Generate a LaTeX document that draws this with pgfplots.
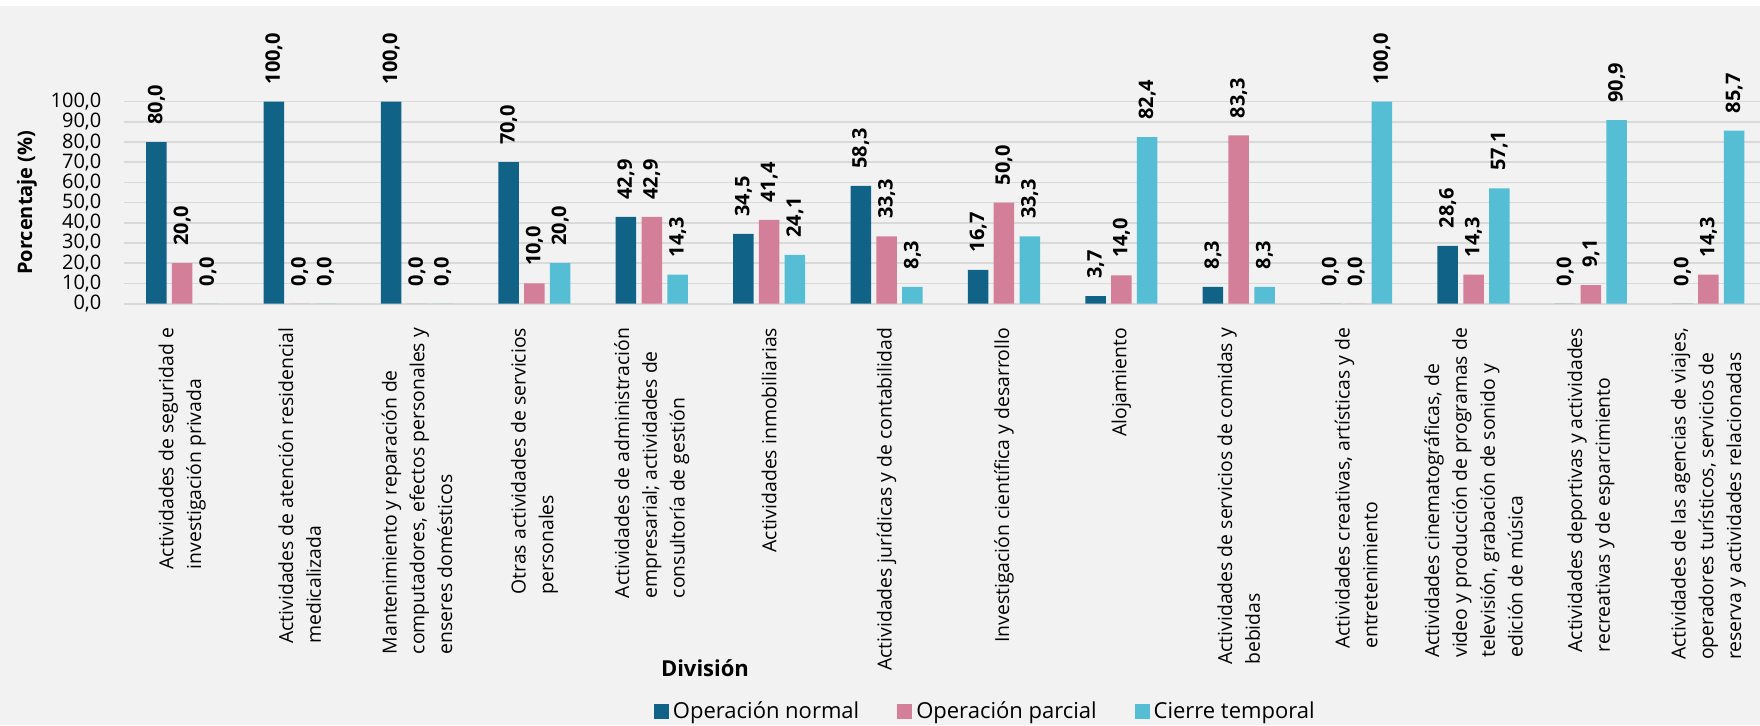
\documentclass[border=0pt]{standalone}
\usepackage{fontspec}
\setmainfont{Open Sans}
\usepackage{pgfplots}
\usepackage{pgfplotstable}
\pgfplotsset{compat=1.18}

\definecolor{normal}{HTML}{106387}
\definecolor{parcial}{HTML}{D47F99}
\definecolor{cierre}{HTML}{55BED5}
\definecolor{fondo}{HTML}{F2F2F2}
\definecolor{rejilla}{HTML}{D9D9D9}

% porcentaje por division y estado de operacion
\pgfplotstableread{
x normal parcial cierre
0  80.0  20.0   0.0
1  100.0  0.0   0.0
2  100.0  0.0   0.0
3  70.0  10.0  20.0
4  42.9  42.9  14.3
5  34.5  41.4  24.1
6  58.3  33.3   8.3
7  16.7  50.0  33.3
8   3.7  14.0  82.4
9   8.3  83.3   8.3
10  0.0   0.0 100.0
11 28.6  14.3  57.1
12  0.0   9.1  90.9
13  0.0  14.3  85.7
}\datos

\begin{document}
\begin{tikzpicture}
\useasboundingbox (0,0) rectangle (880pt,362.5pt);
\fill[white] (0,0) rectangle (880pt,362.5pt);
\fill[fondo] (0,0) rectangle (880pt,359.5pt);
\begin{axis}[
    at={(61.75pt,210.75pt)}, anchor=south west,
    scale only axis, width=821.75pt, height=100.9pt,
    ybar=2.65pt, bar width=10.25pt,
    xmin=-0.5, xmax=13.5, ymin=0, ymax=100,
    clip=false,
    axis x line*=bottom, axis y line*=left,
    x axis line style={rejilla, line width=1pt},
    y axis line style={draw=none},
    xtick style={draw=none}, ytick style={draw=none},
    ytick={0,10,...,100},
    ymajorgrids, grid style={rejilla, line width=0.75pt},
    /pgf/number format/fixed,
    /pgf/number format/fixed zerofill,
    /pgf/number format/precision=1,
    /pgf/number format/use comma,
    /pgf/number format/1000 sep={},
    /pgf/number format/assume math mode=true,
    yticklabel style={anchor=east, inner sep=0pt, xshift=-10.9pt,
        font=\fontsize{10}{12}\selectfont},
    xtick={0,...,13},
    xticklabels={
        {Actividades de seguridad e\\investigación privada},
        {Actividades de atención residencial\\medicalizada},
        {Mantenimiento y reparación de\\computadores, efectos personales y\\enseres domésticos},
        {Otras actividades de servicios\\personales},
        {Actividades de administración\\empresarial; actividades de\\consultoría de gestión},
        {Actividades inmobiliarias},
        {Actividades jurídicas y de contabilidad},
        {Investigación científica y desarrollo},
        {Alojamiento},
        {Actividades de servicios de comidas y\\bebidas},
        {Actividades creativas, artísticas y de\\entretenimiento},
        {Actividades cinematográficas, de\\video y producción de programas de\\televisión, grabación de sonido y\\edición de música},
        {Actividades deportivas y actividades\\recreativas y de esparcimiento},
        {Actividades de las agencias de viajes,\\operadores turísticos, servicios de\\reserva y actividades relacionadas}
    },
    xticklabel style={rotate=90, anchor=east, align=left, inner sep=0pt,
        font=\fontsize{9.7}{13.9}\selectfont},
    xticklabel shift=7.75pt,
    nodes near coords,
    nodes near coords align=horizontal,
    nodes near coords style={rotate=90, anchor=west, inner xsep=8.5pt,
        inner ysep=0pt, black, font=\bfseries\fontsize{10}{12}\selectfont},
    ylabel={\bfseries Porcentaje (\%)},
    ylabel style={at={(axis description cs:-0.0587,0.5)}, anchor=center,
        font=\fontsize{10}{12}\selectfont},
    xlabel={\bfseries División},
    xlabel style={at={(axis description cs:0.3538,-1.806)}, anchor=center,
        font=\fontsize{11}{13}\selectfont},
    legend columns=3,
    legend style={at={(axis description cs:0.525,-2.022)}, anchor=center,
        draw=none, fill=none, font=\fontsize{11}{13}\selectfont,
        /tikz/every even column/.append style={column sep=17pt}},
    legend image code/.code={\fill[#1] (0pt,-3.75pt) rectangle (7.5pt,3.75pt);},
]
\addplot[fill=normal, draw=none] table[x=x, y=normal] {\datos};
\addplot[fill=parcial, draw=none] table[x=x, y=parcial] {\datos};
\addplot[fill=cierre, draw=none] table[x=x, y=cierre] {\datos};
\legend{Operación normal, Operación parcial, Cierre temporal}
\end{axis}
\end{tikzpicture}
\end{document}
